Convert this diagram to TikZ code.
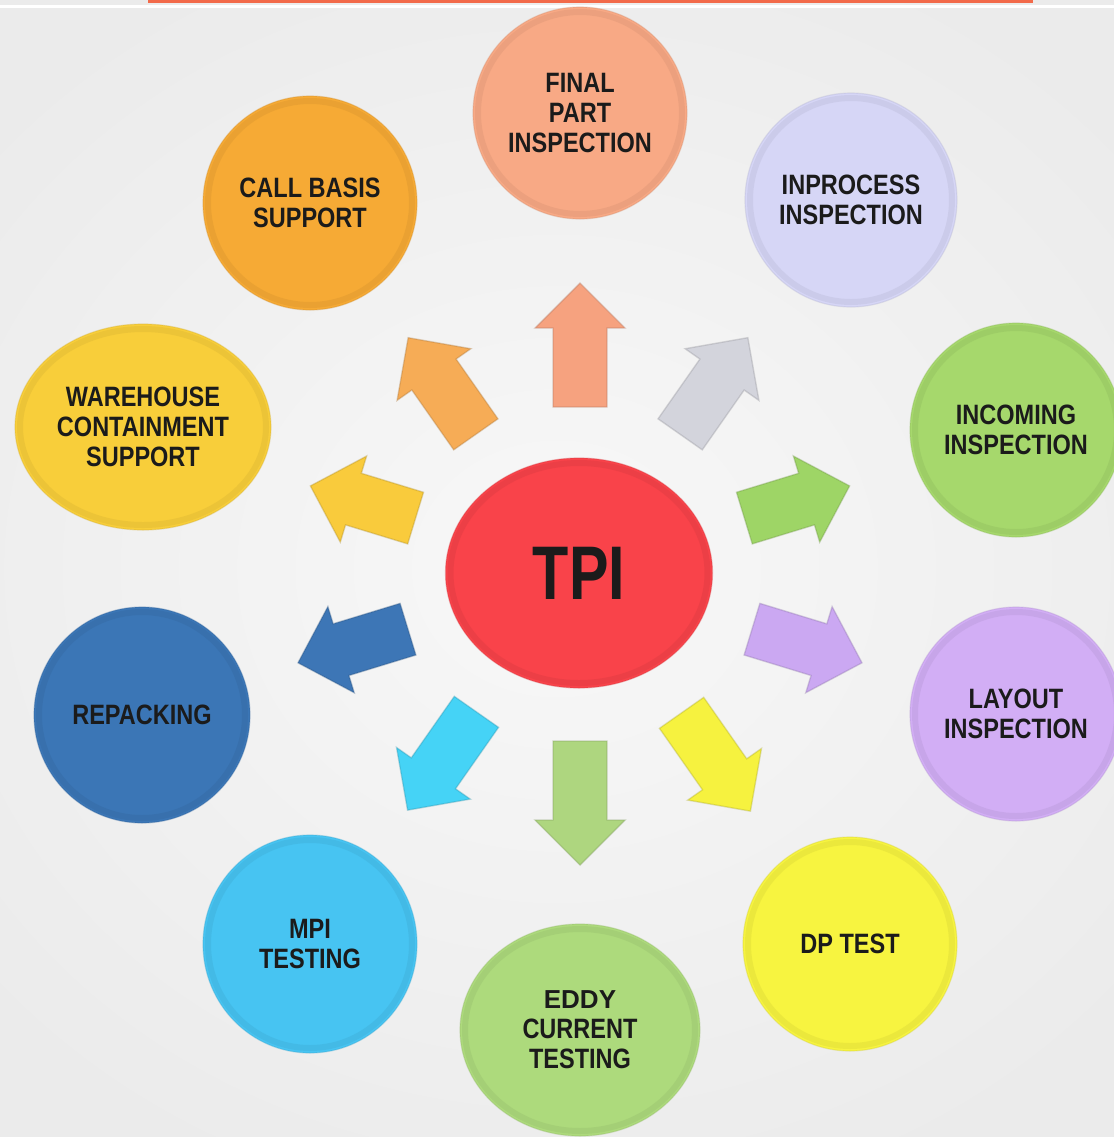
\documentclass[tikz,border=0pt]{standalone}
\usepackage{fontspec}
\usetikzlibrary{shapes.geometric}
\newfontfamily\lbl[FakeStretch=0.84]{Liberation Sans}
\newfontfamily\lblE{Liberation Sans}
\newfontfamily\tpifont[FakeStretch=0.78]{Liberation Sans}
\definecolor{bgOut}{HTML}{EBEBEB}
\definecolor{bgIn}{HTML}{F8F8F8}
\definecolor{topLine}{HTML}{F26A4A}
\definecolor{txt}{HTML}{1B1B1B}
\definecolor{cFinal}{HTML}{F8A985}
\definecolor{cInproc}{HTML}{D6D6F6}
\definecolor{cIncoming}{HTML}{A6D86C}
\definecolor{cLayout}{HTML}{D2AEF5}
\definecolor{cDP}{HTML}{F7F440}
\definecolor{cEddy}{HTML}{ADDA7C}
\definecolor{cMPI}{HTML}{47C4F2}
\definecolor{cRepack}{HTML}{3B76B6}
\definecolor{cWare}{HTML}{F8CE3A}
\definecolor{cCall}{HTML}{F6AA35}
\definecolor{cTPI}{HTML}{F9434A}
\definecolor{aFinal}{HTML}{F6A27F}
\definecolor{aInproc}{HTML}{D3D4DC}
\definecolor{aIncoming}{HTML}{9ED566}
\definecolor{aLayout}{HTML}{CBA8F2}
\definecolor{aDP}{HTML}{F6F23F}
\definecolor{aEddy}{HTML}{AED67F}
\definecolor{aMPI}{HTML}{45D3F6}
\definecolor{aRepack}{HTML}{3D76B6}
\definecolor{aWare}{HTML}{F9CB3C}
\definecolor{aCall}{HTML}{F6AC56}
\tikzset{
  bubble/.style={ellipse, inner sep=0pt, align=center, text=txt,
    font=\lbl\bfseries\fontsize{14pt}{15pt}\selectfont},
  rim/.style={line width=3pt, draw opacity=0.16},
  blockarrow/.style={line width=0.7pt, draw opacity=0.35}
}
% name, x, y, width(pt), height(pt), colour, text
\newcommand\bubble[7]{%
  \node[bubble, fill=#6, draw=#6!85!black, draw opacity=0.35, line width=0.6pt,
        minimum width=#4pt, minimum height=#5pt] (#1) at (#2,#3) {#7};
  \draw[rim, draw=#6!70!black] (#1.center) ellipse [x radius={#4*0.5pt-2.5pt}, y radius={#5*0.5pt-2.5pt}];
}
% x, y, angle, length, colour
\newcommand\blockarrow[5]{%
  \begin{scope}[shift={(#1,#2)}, rotate=#3]
    \filldraw[blockarrow, fill=#5, draw=#5!70!black]
      ({-#4/2},-27) -- ({#4/2-45},-27) -- ({#4/2-45},-45) -- ({#4/2},0)
      -- ({#4/2-45},45) -- ({#4/2-45},27) -- ({-#4/2},27) -- cycle;
  \end{scope}%
}
\begin{document}
\begin{tikzpicture}[x=0.5pt, y=-0.5pt]
  \useasboundingbox (0,0) rectangle (1114,1137);
  \clip (0,0) rectangle (1114,1137);
  % background
  \fill[bgOut] (0,0) rectangle (1114,1137);
  \shade[inner color=bgIn, outer color=bgOut] (-200,-100) rectangle (1314,1237);
  \fill[topLine] (148,0) rectangle (1033,2.5);
  \fill[white] (0,5) rectangle (1114,8);

  % arrows
  \blockarrow{580}{345}{90}{124}{aFinal}
  \blockarrow{714}{386}{55}{118}{aInproc}
  \blockarrow{442}{386}{125}{118}{aCall}
  \blockarrow{797}{502}{17}{110}{aIncoming}
  \blockarrow{363}{502}{163}{110}{aWare}
  \blockarrow{807}{646}{-17}{115}{aLayout}
  \blockarrow{353}{646}{197}{115}{aRepack}
  \blockarrow{442}{761}{235}{120}{aMPI}
  \blockarrow{580}{803}{270}{124}{aEddy}
  \blockarrow{716}{762}{-55}{120}{aDP}

  % bubbles
  \bubble{final}{580}{113}{107}{106}{cFinal}{FINAL\\PART\\INSPECTION}
  \bubble{inproc}{851}{200}{106}{107}{cInproc}{INPROCESS\\INSPECTION}
  \bubble{incoming}{1016}{430}{106}{107}{cIncoming}{INCOMING\\INSPECTION}
  \bubble{layout}{1016}{714}{106}{107}{cLayout}{LAYOUT\\INSPECTION}
  \bubble{dp}{850}{944}{107}{107}{cDP}{DP TEST}
  \bubble{eddy}{580}{1030}{120}{106}{cEddy}{\lblE\bfseries\fontsize{13pt}{14pt}\selectfont EDDY\\CURRENT\\TESTING}
  \bubble{mpi}{310}{944}{107}{109}{cMPI}{MPI\\TESTING}
  \bubble{repack}{142}{715}{108}{108}{cRepack}{REPACKING}
  \bubble{ware}{143}{427}{128}{103}{cWare}{WAREHOUSE\\CONTAINMENT\\SUPPORT}
  \bubble{call}{310}{203}{107}{107}{cCall}{CALL BASIS\\SUPPORT}
  \bubble{tpi}{579}{573}{133.5}{115}{cTPI}{\tpifont\bfseries\fontsize{38pt}{40pt}\selectfont TPI}
\end{tikzpicture}
\end{document}
